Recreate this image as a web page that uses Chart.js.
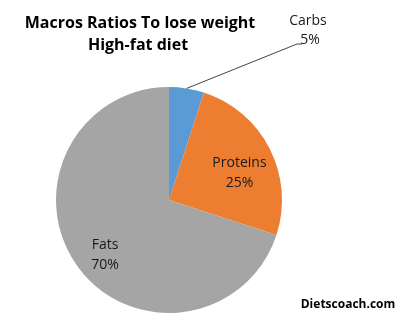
<!DOCTYPE html>
<html lang="en">
<head>
    <meta charset="UTF-8">
    <title>Macros Ratios To lose weight - High-fat diet</title>
    <script src="https://cdn.jsdelivr.net/npm/chart.js"></script>
    <style>
        html, body { margin: 0; padding: 0; background: #fff; }
        #wrap { position: relative; width: 400px; height: 332px; }
    </style>
</head>
<body>
    <div id="wrap">
        <canvas id="pieChart" width="400" height="332"></canvas>
    </div>

    <script>
        // dados do gráfico
        const categorias = ['Carbs', 'Proteins', 'Fats'];
        const percentuais = [5, 25, 70];
        const cores = ['#5B9BD5', '#ED7D31', '#A5A5A5'];
        const titulo = ['Macros Ratios To lose weight', 'High-fat diet'];
        const rodape = 'Dietscoach.com';

        const fonteTexto = '"Open Sans", "Noto Sans", sans-serif';

        // desenha título, rótulos das fatias e o rodapé
        const rotulosPlugin = {
            id: 'rotulos',
            afterDraw(chart) {
                const ctx = chart.ctx;
                const arcs = chart.getDatasetMeta(0).data;
                ctx.save();
                ctx.textAlign = 'center';
                ctx.textBaseline = 'middle';

                // título
                ctx.fillStyle = '#000';
                ctx.font = 'bold 16px ' + fonteTexto;
                ctx.fillText(titulo[0], 140, 23);
                ctx.fillText(titulo[1], 138, 45);

                // rótulos
                ctx.font = '14px ' + fonteTexto;
                ctx.fillStyle = '#1a1a1a';
                arcs.forEach((arc, i) => {
                    const p = arc.getProps(['x', 'y', 'startAngle', 'endAngle', 'outerRadius']);
                    const meio = (p.startAngle + p.endAngle) / 2;
                    const texto2 = percentuais[i] + '%';
                    if (i === 0) {
                        // fatia pequena: rótulo fora com linha guia
                        const bx = p.x + Math.cos(meio) * p.outerRadius;
                        const by = p.y + Math.sin(meio) * p.outerRadius;
                        const lx = 308, ly = 30;
                        ctx.strokeStyle = '#444';
                        ctx.lineWidth = 1;
                        ctx.beginPath();
                        ctx.moveTo(bx, by);
                        ctx.lineTo(lx - 11, ly + 14);
                        ctx.lineTo(lx - 6, ly + 14);
                        ctx.stroke();
                        ctx.fillText(categorias[i], lx, ly - 9);
                        ctx.fillText(texto2, lx + 2, ly + 10);
                    } else {
                        const r = p.outerRadius * 0.7;
                        const cx = p.x + Math.cos(meio) * r;
                        const cy = p.y + Math.sin(meio) * r + 9;
                        ctx.fillText(categorias[i], cx, cy - 10);
                        ctx.fillText(texto2, cx, cy + 10);
                    }
                });

                // rodapé
                ctx.fillStyle = '#000';
                ctx.font = 'bold 12px ' + fonteTexto;
                ctx.fillText(rodape, 348, 305);
                ctx.restore();
            }
        };

        const ctx = document.getElementById('pieChart');
        new Chart(ctx, {
            type: 'pie',
            data: {
                labels: categorias,
                datasets: [{
                    data: percentuais,
                    backgroundColor: cores,
                    borderWidth: 0
                }]
            },
            options: {
                responsive: false,
                animation: false,
                layout: {
                    padding: { left: 56, right: 118, top: 87, bottom: 19 }
                },
                plugins: {
                    legend: { display: false },
                    tooltip: { enabled: false }
                }
            },
            plugins: [rotulosPlugin]
        });
    </script>
</body>
</html>
